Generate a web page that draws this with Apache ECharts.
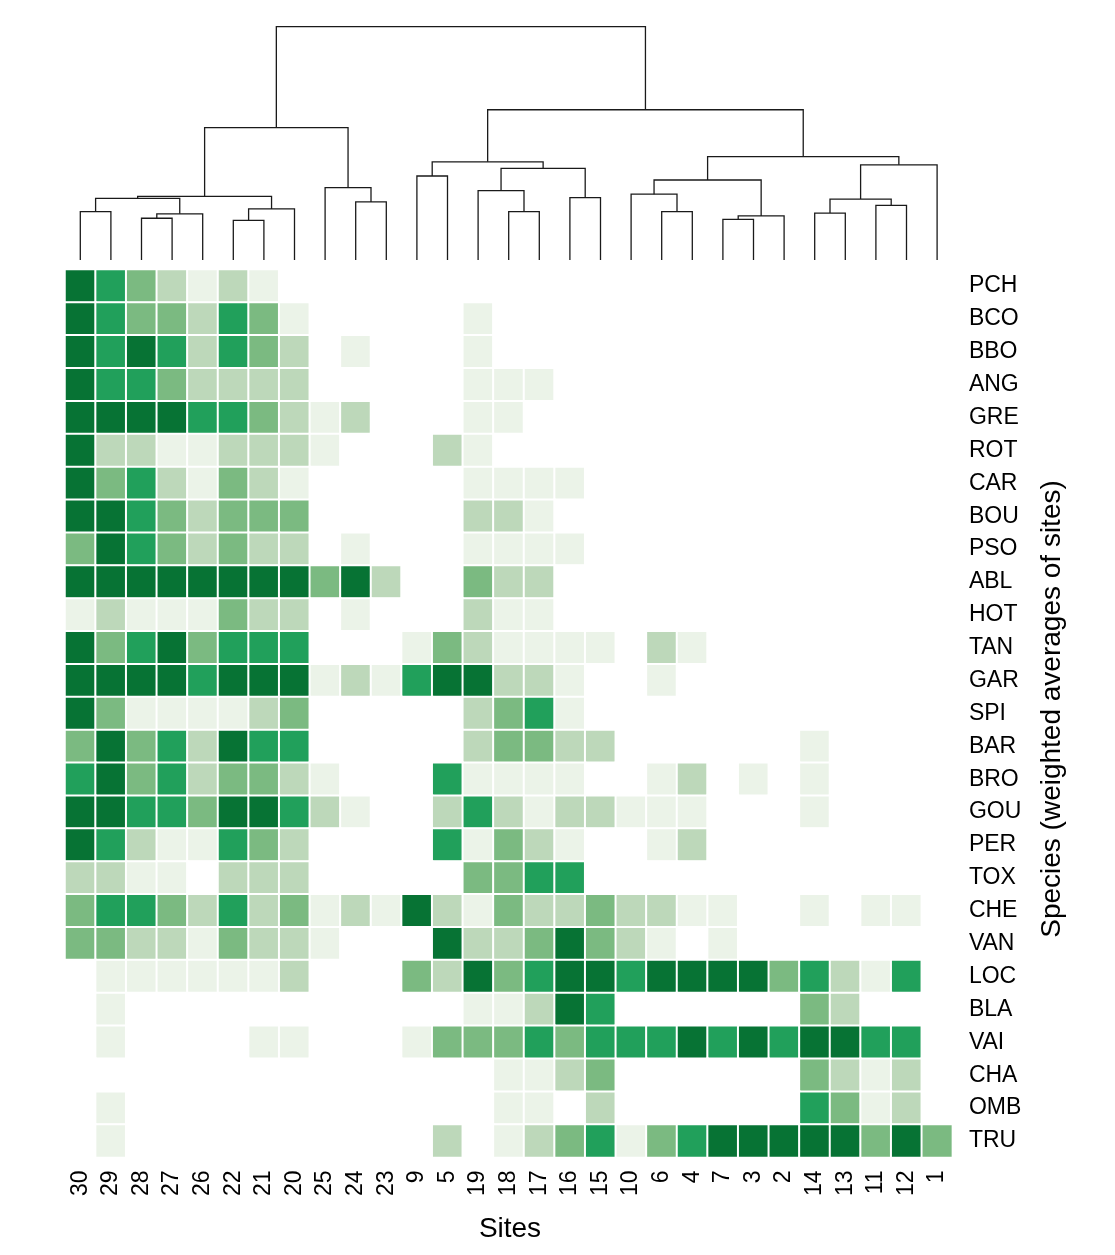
<!DOCTYPE html>
<html>
<head>
<meta charset="utf-8">
<title>Sites heatmap</title>
<script src="https://cdn.jsdelivr.net/npm/echarts@6/dist/echarts.min.js"></script>
<style>
  html, body { margin: 0; padding: 0; background: #fff; }
  #chart { width: 1115px; height: 1255px; }
</style>
</head>
<body>
<div id="chart"></div>
<script>
// Sites (columns, left to right, in dendrogram order)
const sites = ['30','29','28','27','26','22','21','20','25','24','23','9','5','19','18','17','16','15','10','6','4','7','3','2','14','13','11','12','1'];

// Species (rows, top to bottom)
const species = ['PCH','BCO','BBO','ANG','GRE','ROT','CAR','BOU','PSO','ABL','HOT','TAN','GAR','SPI','BAR','BRO','GOU','PER','TOX','CHE','VAN','LOC','BLA','VAI','CHA','OMB','TRU'];

// Abundance class (0 = absent ... 5 = highest), one row per species, in site order
const abundance = [
  [5,4,3,2,1,2,1,0,0,0,0,0,0,0,0,0,0,0,0,0,0,0,0,0,0,0,0,0,0], // PCH
  [5,4,3,3,2,4,3,1,0,0,0,0,0,1,0,0,0,0,0,0,0,0,0,0,0,0,0,0,0], // BCO
  [5,4,5,4,2,4,3,2,0,1,0,0,0,1,0,0,0,0,0,0,0,0,0,0,0,0,0,0,0], // BBO
  [5,4,4,3,2,2,2,2,0,0,0,0,0,1,1,1,0,0,0,0,0,0,0,0,0,0,0,0,0], // ANG
  [5,5,5,5,4,4,3,2,1,2,0,0,0,1,1,0,0,0,0,0,0,0,0,0,0,0,0,0,0], // GRE
  [5,2,2,1,1,2,2,2,1,0,0,0,2,1,0,0,0,0,0,0,0,0,0,0,0,0,0,0,0], // ROT
  [5,3,4,2,1,3,2,1,0,0,0,0,0,1,1,1,1,0,0,0,0,0,0,0,0,0,0,0,0], // CAR
  [5,5,4,3,2,3,3,3,0,0,0,0,0,2,2,1,0,0,0,0,0,0,0,0,0,0,0,0,0], // BOU
  [3,5,4,3,2,3,2,2,0,1,0,0,0,1,1,1,1,0,0,0,0,0,0,0,0,0,0,0,0], // PSO
  [5,5,5,5,5,5,5,5,3,5,2,0,0,3,2,2,0,0,0,0,0,0,0,0,0,0,0,0,0], // ABL
  [1,2,1,1,1,3,2,2,0,1,0,0,0,2,1,1,0,0,0,0,0,0,0,0,0,0,0,0,0], // HOT
  [5,3,4,5,3,4,4,4,0,0,0,1,3,2,1,1,1,1,0,2,1,0,0,0,0,0,0,0,0], // TAN
  [5,5,5,5,4,5,5,5,1,2,1,4,5,5,2,2,1,0,0,1,0,0,0,0,0,0,0,0,0], // GAR
  [5,3,1,1,1,1,2,3,0,0,0,0,0,2,3,4,1,0,0,0,0,0,0,0,0,0,0,0,0], // SPI
  [3,5,3,4,2,5,4,4,0,0,0,0,0,2,3,3,2,2,0,0,0,0,0,0,1,0,0,0,0], // BAR
  [4,5,3,4,2,3,3,2,1,0,0,0,4,1,1,1,1,0,0,1,2,0,1,0,1,0,0,0,0], // BRO
  [5,5,4,4,3,5,5,4,2,1,0,0,2,4,2,1,2,2,1,1,1,0,0,0,1,0,0,0,0], // GOU
  [5,4,2,1,1,4,3,2,0,0,0,0,4,1,3,2,1,0,0,1,2,0,0,0,0,0,0,0,0], // PER
  [2,2,1,1,0,2,2,2,0,0,0,0,0,3,3,4,4,0,0,0,0,0,0,0,0,0,0,0,0], // TOX
  [3,4,4,3,2,4,2,3,1,2,1,5,2,1,3,2,2,3,2,2,1,1,0,0,1,0,1,1,0], // CHE
  [3,3,2,2,1,3,2,2,1,0,0,0,5,2,2,3,5,3,2,1,0,1,0,0,0,0,0,0,0], // VAN
  [0,1,1,1,1,1,1,2,0,0,0,3,2,5,3,4,5,5,4,5,5,5,5,3,4,2,1,4,0], // LOC
  [0,1,0,0,0,0,0,0,0,0,0,0,0,1,1,2,5,4,0,0,0,0,0,0,3,2,0,0,0], // BLA
  [0,1,0,0,0,0,1,1,0,0,0,1,3,3,3,4,3,4,4,4,5,4,5,4,5,5,4,4,0], // VAI
  [0,0,0,0,0,0,0,0,0,0,0,0,0,0,1,1,2,3,0,0,0,0,0,0,3,2,1,2,0], // CHA
  [0,1,0,0,0,0,0,0,0,0,0,0,0,0,1,1,0,2,0,0,0,0,0,0,4,3,1,2,0], // OMB
  [0,1,0,0,0,0,0,0,0,0,0,0,2,0,1,2,3,4,1,3,4,5,5,5,5,5,3,5,3]  // TRU
];

// Colour for each abundance class
const classColors = ['#ffffff','#ebf3e8','#bdd8ba','#7bba81','#21a05b','#077334'];

// Hierarchical clustering of sites: [left, right, height]; 'nK' = K-th merge
const merges = [
  ['30','29',0.207],  // n1
  ['28','27',0.179],  // n2
  ['n2','26',0.198],  // n3
  ['n1','n3',0.264],  // n4
  ['22','21',0.170],  // n5
  ['n5','20',0.219],  // n6
  ['n4','n6',0.273],  // n7
  ['24','23',0.249],  // n8
  ['25','n8',0.310],  // n9
  ['n7','n9',0.567],  // n10
  ['9','5',0.360],    // n11
  ['18','17',0.207],  // n12
  ['19','n12',0.297], // n13
  ['16','15',0.267],  // n14
  ['n13','n14',0.393],// n15
  ['n11','n15',0.421],// n16
  ['6','4',0.207],    // n17
  ['10','n17',0.282], // n18
  ['7','3',0.174],    // n19
  ['n19','2',0.189],  // n20
  ['n18','n20',0.343],// n21
  ['14','13',0.201],  // n22
  ['11','12',0.234],  // n23
  ['n22','n23',0.261],// n24
  ['n24','1',0.408],  // n25
  ['n21','n25',0.443],// n26
  ['n16','n26',0.644],// n27
  ['n10','n27',1.000] // n28
];

// ---- build heatmap data ----
const heatData = [];
abundance.forEach((row, yi) => {
  row.forEach((v, xi) => { heatData.push([xi, yi, v]); });
});

// ---- build dendrogram segments ----
const nodes = {};
function nodeInfo(id) {
  if (id.charAt(0) === 'n') return nodes[id];
  return { x: sites.indexOf(id), h: 0 };
}
const dendroLines = [];
merges.forEach((m, i) => {
  const a = nodeInfo(m[0]);
  const b = nodeInfo(m[1]);
  const h = m[2];
  dendroLines.push({ coords: [[a.x, a.h], [a.x, h], [b.x, h], [b.x, b.h]] });
  nodes['n' + (i + 1)] = { x: (a.x + b.x) / 2, h: h };
});

const FONT = 'Liberation Sans, Arial, Helvetica, sans-serif';

const chart = echarts.init(document.getElementById('chart'), null, { renderer: 'canvas' });
chart.setOption({
  backgroundColor: '#ffffff',
  animation: false,
  textStyle: { fontFamily: FONT },
  grid: [
    { left: 65, top: 269.6, width: 887.4, height: 887.8, containLabel: false },
    { left: 65, top: 26.7, width: 887.4, height: 233.3, containLabel: false }
  ],
  xAxis: [
    {
      type: 'category', gridIndex: 0, data: sites, position: 'bottom',
      axisLine: { show: false }, axisTick: { show: false }, splitLine: { show: false },
      axisLabel: { rotate: 90, fontSize: 23, margin: 13, color: '#000', fontFamily: FONT, interval: 0 }
    },
    {
      type: 'value', gridIndex: 1, min: -0.5, max: sites.length - 0.5, show: false
    }
  ],
  yAxis: [
    {
      type: 'category', gridIndex: 0, data: species, inverse: true, position: 'right',
      axisLine: { show: false }, axisTick: { show: false }, splitLine: { show: false },
      axisLabel: { fontSize: 23, margin: 16.5, color: '#000', fontFamily: FONT, interval: 0, align: 'left', padding: [3, 0, 0, 0] }
    },
    {
      type: 'value', gridIndex: 1, min: 0, max: 1, show: false
    }
  ],
  visualMap: {
    type: 'piecewise', show: false, seriesIndex: 0, dimension: 2,
    pieces: classColors.map((c, i) => ({ value: i, color: c }))
  },
  series: [
    {
      type: 'heatmap', xAxisIndex: 0, yAxisIndex: 0, data: heatData,
      itemStyle: { borderColor: '#ffffff', borderWidth: 2 },
      emphasis: { disabled: true },
      silent: true
    },
    {
      type: 'lines', coordinateSystem: 'cartesian2d', xAxisIndex: 1, yAxisIndex: 1,
      polyline: true, data: dendroLines, silent: true,
      lineStyle: { color: '#1a1a1a', width: 1.3, opacity: 1 }
    }
  ],
  graphic: [
    {
      type: 'text', x: 510, y: 1229,
      style: { text: 'Sites', fontSize: 28, fontFamily: FONT, fill: '#000', align: 'center', verticalAlign: 'middle' }
    },
    {
      type: 'text', x: 1052, y: 709, rotation: Math.PI / 2,
      style: { text: 'Species (weighted averages of sites)', fontSize: 28, fontFamily: FONT, fill: '#000', align: 'center', verticalAlign: 'middle' }
    }
  ]
});
</script>
</body>
</html>
